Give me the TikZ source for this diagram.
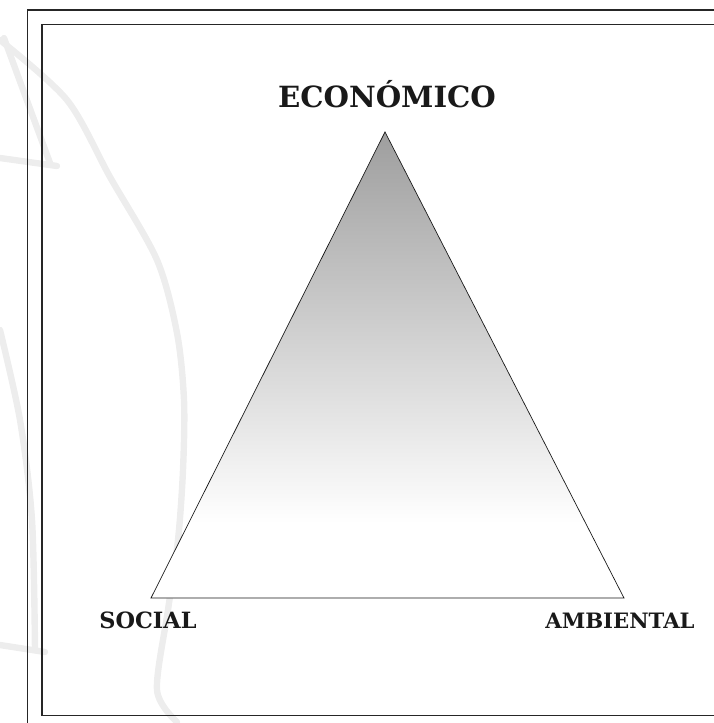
\documentclass[tikz,border=0pt]{standalone}
\usepackage{fontspec}
\setmainfont{DejaVu Serif}
\usetikzlibrary{positioning}

\pgfdeclareverticalshading{ecoshade}{100bp}{color(0bp)=(white); color(33bp)=(white); color(75bp)=(black!38); color(100bp)=(black!38)}

\begin{document}
\begin{tikzpicture}[x=0.5pt, y=-0.5pt]
            % Block styles
            \tikzstyle{watermark} = [draw=black!7, line width=3.2pt, line cap=round, line join=round]
            \tikzstyle{frame} = [draw=black!85, line width=0.6pt]
            \tikzstyle{vertex} = [font=\bfseries\fontsize{11.2}{14}\selectfont, inner sep=0pt, text=black!90]
            \useasboundingbox (0,0) rectangle (713,723);
            % Watermark
            \draw[watermark] plot[smooth] coordinates {(0,40) (67,100) (110,177) (157,260) (177,333) (184,400) (183,470) (178,540) (168,610) (157,690) (177,722)};
            \draw[watermark] (4,38) -- (50,163);
            \draw[watermark] (0,158) -- (57,166);
            \draw[watermark] plot[smooth] coordinates {(0,330) (20,420) (32,520) (35,650)};
            \draw[watermark] (0,645) -- (45,652);
            % Frame
            \draw[frame] (27.5,10) rectangle (730,735);
            \draw[frame, line width=0.75pt] (42,24.5) rectangle (725,715.5);
            % Triangle
            \coordinate (apex) at (385,132);
            \coordinate (left) at (151,598);
            \coordinate (right) at (624,598);
            \shadedraw[shading=ecoshade, draw=black!90, line width=0.35pt] (apex) -- (left) -- (right) -- cycle;
            % Labels
            \node[vertex, font=\bfseries\fontsize{14.6}{17}\selectfont, anchor=base] (econ) at (387,107) {ECONÓMICO};
            \node[vertex, anchor=base west] (social) at (99,628) {SOCIAL};
            \node[vertex, font=\bfseries\fontsize{10.6}{14}\selectfont, anchor=base east] (ambiental) at (695,628) {AMBIENTAL};
        \end{tikzpicture}
\end{document}
